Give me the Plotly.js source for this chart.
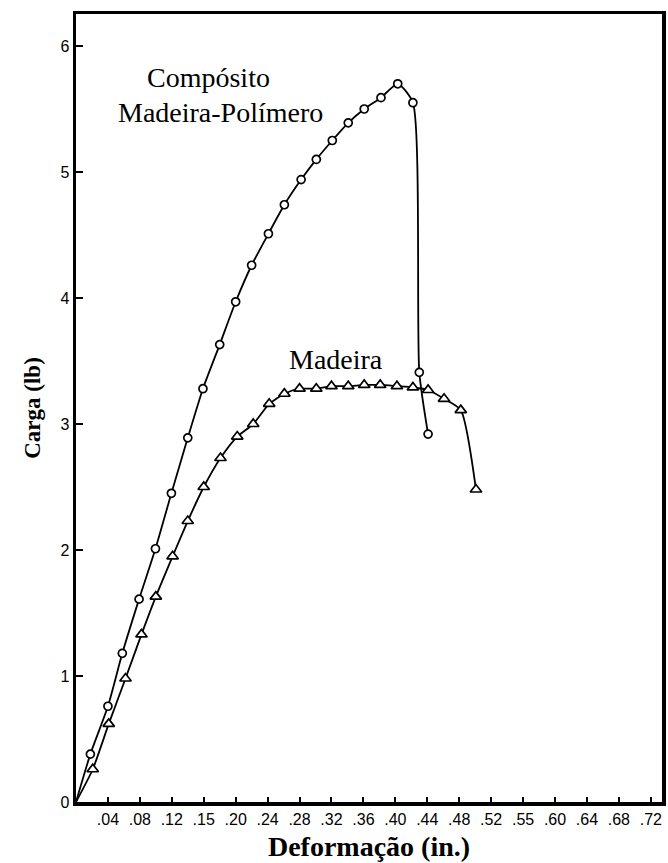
<!DOCTYPE html>
<html>
<head>
<meta charset="utf-8">
<script src="https://cdn.plot.ly/plotly-3.0.1.min.js"></script>
<style>
  html, body { margin: 0; padding: 0; background: #fff; }
  #chart { width: 668px; height: 863px; }
</style>
</head>
<body>
<div id="chart"></div>
<script>
// Compósito Madeira-Polímero (circles)
const compX = [0, 0.018, 0.040, 0.058, 0.079, 0.0995, 0.1195, 0.140, 0.159, 0.180, 0.200, 0.220, 0.241, 0.261, 0.282, 0.301, 0.321, 0.341, 0.361, 0.382, 0.403, 0.422, 0.430, 0.441];
const compY = [0, 0.38, 0.76, 1.18, 1.61, 2.01, 2.45, 2.89, 3.28, 3.63, 3.97, 4.26, 4.51, 4.74, 4.94, 5.10, 5.25, 5.39, 5.50, 5.59, 5.70, 5.55, 3.41, 2.92];

// Madeira (triangles)
const woodX = [0, 0.021, 0.041, 0.062, 0.082, 0.100, 0.121, 0.140, 0.160, 0.181, 0.202, 0.222, 0.242, 0.261, 0.280, 0.301, 0.320, 0.341, 0.361, 0.381, 0.402, 0.422, 0.441, 0.461, 0.482, 0.501];
const woodY = [0, 0.26, 0.62, 0.98, 1.33, 1.63, 1.95, 2.23, 2.50, 2.73, 2.90, 3.00, 3.16, 3.24, 3.28, 3.28, 3.30, 3.30, 3.31, 3.31, 3.30, 3.29, 3.27, 3.20, 3.11, 2.48];

// Axis ticks
const xTickVals = [0.04, 0.08, 0.12, 0.16, 0.20, 0.24, 0.28, 0.32, 0.36, 0.40, 0.44, 0.48, 0.52, 0.56, 0.60, 0.64, 0.68, 0.72];
const xTickText = ['.04', '.08', '.12', '.15', '.20', '.24', '.28', '.32', '.36', '.40', '.44', '.48', '.52', '.55', '.60', '.64', '.68', '.72'];
const yTickVals = [0, 1, 2, 3, 4, 5, 6];
const yTickText = ['0', '1', '2', '3', '4', '5', '6'];

// Labels
const labelCompLine1 = 'Compósito';
const labelCompLine2 = 'Madeira-Polímero';
const labelWood = 'Madeira';
const xTitle = 'Deformação (in.)';
const yTitle = 'Carga (lb)';

const traces = [
  { x: compX, y: compY, mode: 'lines', line: { color: '#000', width: 1.8, shape: 'spline', smoothing: 0.6 }, hoverinfo: 'skip', showlegend: false },
  { x: compX.slice(1), y: compY.slice(1), mode: 'markers', showlegend: false,
    marker: { symbol: 'circle', size: 8, color: '#fff', line: { color: '#000', width: 1.7 } } },
  { x: woodX, y: woodY, mode: 'lines', line: { color: '#000', width: 1.8, shape: 'spline', smoothing: 0.6 }, hoverinfo: 'skip', showlegend: false },
  { x: woodX.slice(1), y: woodY.slice(1), mode: 'markers', showlegend: false,
    marker: { symbol: 'triangle-up', size: 10, color: '#fff', line: { color: '#000', width: 1.7 } } }
];

const layout = {
  width: 668, height: 863,
  margin: { l: 76, r: 6, t: 14, b: 61 },
  paper_bgcolor: '#fff', plot_bgcolor: '#fff',
  showlegend: false,
  font: { family: 'Liberation Sans, Arial, sans-serif', color: '#000', size: 16 },
  xaxis: {
    range: [0, 0.734], tickmode: 'array', tickvals: xTickVals, ticktext: xTickText,
    ticks: 'inside', ticklen: 5, tickwidth: 2, tickcolor: '#000',
    showline: true, linewidth: 3.5, linecolor: '#000', mirror: true,
    showgrid: false, zeroline: false,
    tickfont: { family: 'Liberation Sans, Arial, sans-serif', size: 16, color: '#000' },
    title: { text: xTitle, standoff: 10, font: { family: 'Liberation Serif, Times New Roman, serif', size: 28, color: '#000', weight: 'bold' } }
  },
  yaxis: {
    range: [0, 6.254], tickmode: 'array', tickvals: yTickVals, ticktext: yTickText,
    ticks: 'inside', ticklen: 7, tickwidth: 2, tickcolor: '#000',
    showline: true, linewidth: 3.5, linecolor: '#000', mirror: true,
    showgrid: false, zeroline: false,
    tickfont: { family: 'Liberation Sans, Arial, sans-serif', size: 16, color: '#000' },
    title: { text: yTitle, standoff: 14, font: { family: 'Liberation Serif, Times New Roman, serif', size: 23, color: '#000', weight: 'bold' } }
  },
  annotations: [
    { x: 0.166, y: 5.75, xref: 'x', yref: 'y', text: labelCompLine1, showarrow: false,
      font: { family: 'Liberation Serif, Times New Roman, serif', size: 28, color: '#000' } },
    { x: 0.1806, y: 5.47, xref: 'x', yref: 'y', text: labelCompLine2, showarrow: false,
      font: { family: 'Liberation Serif, Times New Roman, serif', size: 28, color: '#000' } },
    { x: 0.326, y: 3.51, xref: 'x', yref: 'y', text: labelWood, showarrow: false,
      font: { family: 'Liberation Serif, Times New Roman, serif', size: 28, color: '#000' } }
  ]
};

Plotly.newPlot('chart', traces, layout, { displayModeBar: false, staticPlot: true });
</script>
</body>
</html>
